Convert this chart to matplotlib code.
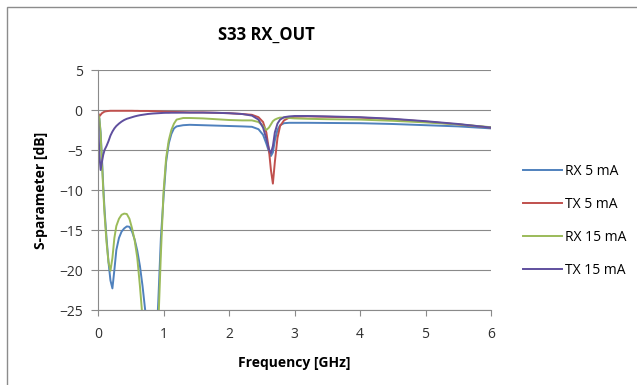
import matplotlib
matplotlib.use("Agg")
import matplotlib.pyplot as plt
from matplotlib.patches import Rectangle

freq = [0.00, 0.02, 0.04, 0.06, 0.08, 0.10, 0.13, 0.16, 0.19, 0.22,
        0.25, 0.28, 0.32, 0.36, 0.40, 0.44, 0.48, 0.52, 0.56, 0.60,
        0.64, 0.68, 0.72, 0.76, 0.80, 0.84, 0.88, 0.92, 0.96, 1.00,
        1.04, 1.08, 1.12, 1.16, 1.20, 1.30, 1.40, 1.60, 1.80, 2.00,
        2.20, 2.35, 2.45, 2.52, 2.57, 2.61, 2.64, 2.67, 2.70, 2.74,
        2.78, 2.84, 2.92, 3.00, 3.20, 3.50, 4.00, 4.50, 5.00, 5.50, 6.00]

rx_5ma = [-0.5, -1.0, -2.8, -6.0, -9.5, -12.5, -16.0, -19.0, -21.3, -22.3,
          -20.0, -17.5, -16.0, -15.2, -14.8, -14.55, -14.6, -15.2, -16.2, -17.6,
          -19.5, -22.0, -25.0, -29.0, -33.0, -35.0, -31.0, -24.0, -16.0, -11.0,
          -6.5, -4.2, -3.0, -2.3, -2.05, -1.9, -1.85, -1.9, -1.95, -2.0,
          -2.05, -2.1, -2.4, -3.1, -4.2, -5.2, -5.75, -5.3, -3.8, -2.5,
          -1.9, -1.65, -1.6, -1.6, -1.6, -1.62, -1.65, -1.75, -1.9, -2.05, -2.3]

tx_5ma = [-0.3, -0.8, -0.6, -0.4, -0.3, -0.2, -0.15, -0.12, -0.1, -0.1,
          -0.1, -0.1, -0.1, -0.1, -0.1, -0.1, -0.1, -0.1, -0.11, -0.11,
          -0.12, -0.12, -0.12, -0.12, -0.13, -0.14, -0.15, -0.17, -0.18, -0.2,
          -0.21, -0.22, -0.23, -0.24, -0.25, -0.27, -0.3, -0.3, -0.35, -0.4,
          -0.5, -0.6, -0.9, -1.5, -2.8, -5.0, -7.5, -9.2, -6.5, -3.5,
          -2.0, -1.3, -0.95, -0.85, -0.8, -0.85, -0.95, -1.15, -1.45, -1.8, -2.2]

rx_15ma = [-0.5, -1.0, -3.0, -6.5, -10.0, -13.0, -16.5, -19.0, -20.1, -18.5,
           -16.0, -14.5, -13.6, -13.1, -12.95, -13.0, -13.6, -14.8, -16.3, -18.5,
           -22.0, -26.0, -30.0, -34.0, -36.0, -35.0, -32.0, -27.0, -18.0, -10.3,
           -6.0, -3.8, -2.5, -1.7, -1.2, -1.0, -1.0, -1.05, -1.15, -1.25,
           -1.3, -1.3, -1.5, -2.0, -2.5, -2.2, -1.8, -1.4, -1.2, -1.05,
           -0.95, -0.95, -1.0, -1.05, -1.1, -1.15, -1.2, -1.35, -1.55, -1.8, -2.15]

tx_15ma = [-0.5, -5.5, -7.5, -6.5, -5.6, -5.0, -4.5, -3.9, -3.2, -2.7,
           -2.3, -2.0, -1.7, -1.45, -1.25, -1.1, -1.0, -0.9, -0.8, -0.72,
           -0.65, -0.6, -0.55, -0.5, -0.47, -0.44, -0.42, -0.4, -0.38, -0.36,
           -0.35, -0.35, -0.34, -0.34, -0.34, -0.33, -0.33, -0.33, -0.35, -0.4,
           -0.5, -0.7, -1.2, -2.2, -3.6, -4.9, -5.4, -4.5, -2.8, -1.7,
           -1.2, -0.9, -0.8, -0.75, -0.75, -0.8, -0.9, -1.1, -1.4, -1.75, -2.2]

series_names = ["RX 5 mA", "TX 5 mA", "RX 15 mA", "TX 15 mA"]
series_values = [rx_5ma, tx_5ma, rx_15ma, tx_15ma]
colors = ["#4F81BD", "#C0504D", "#9BBB59", "#5F4F9E"]

x_ticks = [0, 1, 2, 3, 4, 5, 6]
y_ticks = [5, 0, -5, -10, -15, -20, -25]

plt.rcParams['font.family'] = ['Open Sans', 'DejaVu Sans']

W, H = 637, 385
fig = plt.figure(figsize=(W / 100, H / 100), dpi=100)
fig.patch.set_facecolor("white")

# chart frame
fig.add_artist(Rectangle((7 / W, -0.1), 1.2, 1.1 - 7 / H, transform=fig.transFigure,
                         fill=False, edgecolor="#8C8C8C", linewidth=1.0))

ax = fig.add_axes([98 / W, 1 - 310 / H, (491 - 98) / W, (310 - 70) / H])
for name, vals, c in zip(series_names, series_values, colors):
    ax.plot(freq, vals, color=c, linewidth=1.4, label=name)

ax.set_xlim(0, 6)
ax.set_ylim(-25, 5)
ax.set_xticks(x_ticks)
ax.set_yticks(y_ticks)
ax.grid(axis="y", color="#8A8A8A", linewidth=0.8)
ax.set_axisbelow(True)
for s in ["top", "right"]:
    ax.spines[s].set_visible(False)
for s in ["left", "bottom"]:
    ax.spines[s].set_color("#8A8A8A")
    ax.spines[s].set_linewidth(0.8)
ax.tick_params(axis="both", direction="out", color="#8A8A8A",
               labelsize=10, labelcolor="#303030")
ax.tick_params(axis="x", length=4, pad=8)
ax.tick_params(axis="y", length=5, pad=6)

ax.set_xlabel("Frequency [GHz]", fontsize=10, fontweight="bold", labelpad=10)
ax.set_ylabel("S-parameter [dB]", fontsize=10, fontweight="bold", labelpad=8)

fig.text(266 / W, 1 - 35 / H, "S33 RX_OUT", ha="center", va="center",
         fontsize=12, fontweight="bold")

leg = ax.legend(loc="center left", bbox_to_anchor=(1.05, 0.37), frameon=False,
                fontsize=10, handlelength=2.8, handletextpad=0.2,
                labelspacing=1.3)

fig.savefig("out.png", dpi=100, facecolor="white")
